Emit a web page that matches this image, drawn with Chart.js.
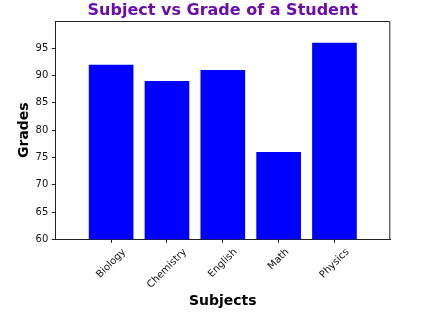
<!DOCTYPE html>
<html>
<head>
<meta charset="utf-8">
<script src="https://cdn.jsdelivr.net/npm/chart.js@4.4.0/dist/chart.umd.min.js"></script>
<style>
  html, body { margin: 0; padding: 0; background: #fff; }
  #wrap { width: 430px; height: 315px; position: relative; }
</style>
</head>
<body>
<div id="wrap"><canvas id="myChart"></canvas></div>
<script>
const subjects = ['Biology', 'Chemistry', 'English', 'Math', 'Physics']
const grades = [92, 89, 91, 76, 96]
const yTicks = [60, 65, 70, 75, 80, 85, 90, 95]

// empty slot on each side, like the matplotlib margins
const labels = [''].concat(subjects).concat([''])
const values = [null].concat(grades).concat([null])

const font = 'DejaVu Sans'

// spines on top and right + the rotated subject names
const extras = {
  id: 'extras',
  afterDraw(chart) {
    const c = chart.ctx
    const a = chart.chartArea
    c.save()
    c.strokeStyle = '#222'
    c.lineWidth = 1
    c.beginPath()
    c.moveTo(a.left, a.top + 0.5)
    c.lineTo(a.right - 0.5, a.top + 0.5)
    c.lineTo(a.right - 0.5, a.bottom)
    c.stroke()

    const xs = chart.scales.x
    c.font = '10px "' + font + '"'
    c.fillStyle = '#111'
    c.textAlign = 'center'
    c.textBaseline = 'middle'
    subjects.forEach((s, i) => {
      const x = xs.getPixelForValue(i + 1)
      const w = c.measureText(s).width
      const side = (w + 11.6) * Math.SQRT1_2
      const y = a.bottom + 7 + side / 2
      c.save()
      c.translate(x, y)
      c.rotate(-Math.PI / 4)
      c.fillText(s, 0, 0)
      c.restore()
    })
    c.restore()
  }
}

const ctx = document.getElementById('myChart')
new Chart(ctx, {
  type: 'bar',
  data: {
    labels: labels,
    datasets: [{
      label: 'Grades',
      data: values,
      backgroundColor: '#0000ff',
      borderWidth: 0,
      categoryPercentage: 1,
      barPercentage: 0.8
    }]
  },
  options: {
    responsive: true,
    maintainAspectRatio: false,
    animation: false,
    layout: { padding: { top: 0, left: 0, right: 39.7, bottom: 0 } },
    plugins: {
      legend: { display: false },
      tooltip: { enabled: false },
      title: {
        display: true,
        text: 'Subject vs Grade of a Student',
        color: '#6a0dad',
        fullSize: false,
        font: { family: font, size: 16, weight: 'bold', lineHeight: 1.2 },
        padding: { top: 1.5, bottom: 0.3 }
      }
    },
    scales: {
      x: {
        offset: false,
        afterFit: s => { s.height = 75.7 },
        border: { color: '#222', width: 1 },
        grid: {
          offset: false,
          drawOnChartArea: false,
          tickLength: 3.5,
          tickColor: c => (c.index === 0 || c.index === labels.length - 1) ? 'rgba(0,0,0,0)' : '#222'
        },
        ticks: { display: false, autoSkip: false },
        title: {
          display: true,
          text: 'Subjects',
          color: '#000',
          font: { family: font, size: 14, weight: 'bold', lineHeight: 1.2 },
          padding: { top: 0, bottom: 5 }
        }
      },
      y: {
        min: 60,
        max: 100,
        afterFit: s => { s.width = 55.3 },
        afterBuildTicks: s => { s.ticks = yTicks.map(v => ({ value: v })) },
        border: { color: '#222', width: 1 },
        grid: { drawOnChartArea: false, tickLength: 3.5, tickColor: '#222' },
        ticks: {
          color: '#111',
          padding: 3.5,
          font: { family: font, size: 10 }
        },
        title: {
          display: true,
          text: 'Grades',
          color: '#000',
          font: { family: font, size: 14, weight: 'bold', lineHeight: 1.2 },
          padding: { top: 15.5, bottom: 0 }
        }
      }
    }
  },
  plugins: [extras]
})
</script>
</body>
</html>
